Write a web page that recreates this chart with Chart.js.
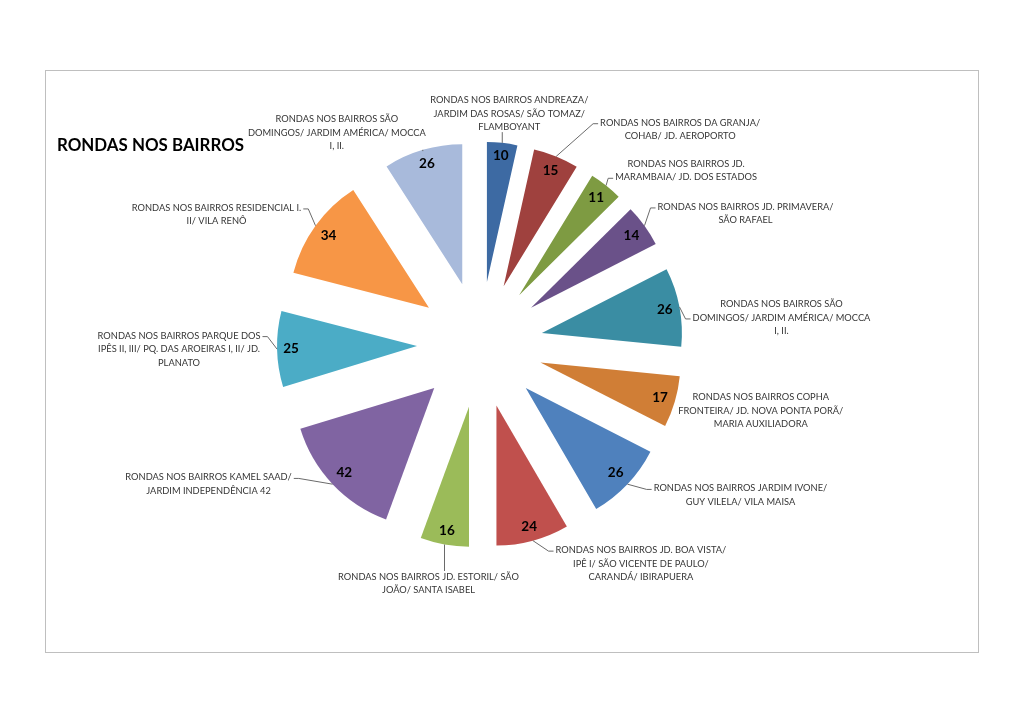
<!DOCTYPE html>
<html lang="pt-BR">
<head>
<meta charset="UTF-8">
<title>Rondas nos bairros</title>
<script src="https://cdn.jsdelivr.net/npm/chart.js"></script>
<style>
  html, body { margin: 0; background: #fff; }
  #quadro { position: absolute; left: 45px; top: 70px; width: 932px; height: 581px; border: 1px solid #bfbfbf; background: #fff; }
  #quadro canvas { display: block; }
</style>
</head>
<body>
<div id="quadro"><canvas id="rondas" width="932" height="581"></canvas></div>
<script>
// dados do grafico
var bairros = [
  ["RONDAS NOS BAIRROS ANDREAZA/", "JARDIM DAS ROSAS/ SÃO TOMAZ/", "FLAMBOYANT"],
  ["RONDAS NOS BAIRROS DA GRANJA/", "COHAB/ JD. AEROPORTO"],
  ["RONDAS NOS BAIRROS JD.", "MARAMBAIA/ JD. DOS ESTADOS"],
  ["RONDAS NOS BAIRROS JD. PRIMAVERA/", "SÃO RAFAEL"],
  ["RONDAS NOS BAIRROS SÃO", "DOMINGOS/ JARDIM AMÉRICA/ MOCCA", "I, II."],
  ["RONDAS NOS BAIRROS COPHA", "FRONTEIRA/ JD. NOVA PONTA PORÃ/", "MARIA AUXILIADORA"],
  ["RONDAS NOS BAIRROS JARDIM IVONE/", "GUY VILELA/ VILA MAISA"],
  ["RONDAS NOS BAIRROS JD. BOA VISTA/", "IPÊ I/ SÃO VICENTE DE PAULO/", "CARANDÁ/ IBIRAPUERA"],
  ["RONDAS NOS BAIRROS JD. ESTORIL/ SÃO", "JOÃO/ SANTA ISABEL"],
  ["RONDAS NOS BAIRROS KAMEL SAAD/", "JARDIM INDEPENDÊNCIA 42"],
  ["RONDAS NOS BAIRROS PARQUE DOS", "IPÊS II, III/ PQ. DAS AROEIRAS I, II/ JD.", "PLANATO"],
  ["RONDAS NOS BAIRROS RESIDENCIAL I.", "II/ VILA RENÔ"],
  ["RONDAS NOS BAIRROS SÃO", "DOMINGOS/ JARDIM AMÉRICA/ MOCCA", "I, II."]
];
var rondas = [10, 15, 11, 14, 26, 17, 26, 24, 16, 42, 25, 34, 26];
var titulo = "RONDAS NOS BAIRROS";

var cores = ["#3d6aa3", "#9f413e", "#7e9b42", "#6a5189", "#3a8da3", "#d07e36",
             "#4f81bd", "#c0504d", "#9bbb59", "#8064a2", "#4bacc6", "#f79646", "#a8badb"];

// deslocamento dos rotulos (a partir da borda externa da fatia) e linhas de chamada
var desloc = [[7, -29], [124, -27], [80, -15], [101, -12], [102, 11], [86, 9], [113, 11],
              [108, 23], [-16, 39], [-124, 0], [-98, 0], [-99, -11], [-86, -17]];
var comLinha = [true, true, true, true, true, false, true, true, true, true, true, true, true];

var explosao = 63;
var raio = 140;
var fonte = "Lato, 'Open Sans', sans-serif";

/* separa as fatias do centro */
var explodir = {
  id: 'explodir',
  afterDatasetUpdate: function(chart, args) {
    var ca = chart.chartArea;
    var cx = (ca.left + ca.right) / 2;
    var cy = (ca.top + ca.bottom) / 2;
    args.meta.data.forEach(function(arc) {
      var meio = (arc.startAngle + arc.endAngle) / 2;
      arc.x = cx + Math.cos(meio) * explosao;
      arc.y = cy + Math.sin(meio) * explosao;
    });
  }
};

/* valores dentro das fatias e nomes dos bairros fora */
var rotulos = {
  id: 'rotulos',
  afterDatasetsDraw: function(chart) {
    var ctx = chart.ctx;
    var arcs = chart.getDatasetMeta(0).data;
    ctx.save();
    ctx.textAlign = 'center';
    ctx.textBaseline = 'middle';
    arcs.forEach(function(arc, i) {
      var meio = (arc.startAngle + arc.endAngle) / 2;
      var ux = Math.cos(meio), uy = Math.sin(meio);
      var R = arc.outerRadius;

      // valor
      var txt = String(rondas[i]);
      ctx.font = 'bold 13.5px ' + fonte;
      var w = ctx.measureText(txt).width;
      var ext = Math.abs(ux) * w / 2 + Math.abs(uy) * 6.5;
      var r = R - 6 - ext;
      ctx.fillStyle = '#000';
      ctx.fillText(txt, arc.x + ux * r, arc.y + uy * r);

      // nome do bairro
      var ax = arc.x + ux * R, ay = arc.y + uy * R;
      var linhas = bairros[i];
      var lh = 13.5;
      ctx.font = '9.3px ' + fonte;
      var larguras = linhas.map(function(l) { return ctx.measureText(l).width; });
      var larg = Math.max.apply(null, larguras);
      var maior = larguras.indexOf(larg);
      var alt = linhas.length * lh;
      var dx = desloc[i][0], dy = desloc[i][1];
      var lx = ax + dx, ly = ay + dy;
      ctx.fillStyle = '#363636';
      linhas.forEach(function(l, k) {
        ctx.fillText(l, lx, ly - alt / 2 + lh * (k + 0.5));
      });

      if (!comLinha[i]) return;
      ctx.strokeStyle = '#6a6a6a';
      ctx.lineWidth = 1;
      ctx.beginPath();
      ctx.moveTo(ax, ay);
      if (Math.abs(dx) < larg / 2) {
        var ey = dy < 0 ? ly + alt / 2 - 2 : ly - alt / 2 + 1;
        ctx.lineTo(ax, ey);
      } else {
        var s = dx > 0 ? 1 : -1;
        var ey2 = ly - alt / 2 + lh * (maior + 0.5) + 1;
        var ex = lx - s * (larg / 2 + 2);
        ctx.lineTo(ex - s * 5, ey2);
        ctx.lineTo(ex, ey2);
      }
      ctx.stroke();
    });
    ctx.restore();
  }
};

var ctx = document.getElementById('rondas').getContext('2d');
var grafico = new Chart(ctx, {
  type: 'pie',
  data: {
    labels: bairros,
    datasets: [{
      data: rondas,
      backgroundColor: cores,
      borderWidth: 0,
      radius: raio
    }]
  },
  options: {
    responsive: false,
    animation: false,
    events: [],
    layout: { padding: { left: 11, right: 75, top: 0, bottom: 118.5 } },
    plugins: {
      legend: { display: false },
      tooltip: { enabled: false },
      title: {
        display: true,
        text: titulo,
        align: 'start',
        color: '#000',
        font: { family: fonte, size: 16.9, weight: 'bold', lineHeight: 1.2 },
        padding: { top: 64.5, bottom: 0 }
      }
    }
  },
  plugins: [explodir, rotulos]
});
</script>
</body>
</html>
